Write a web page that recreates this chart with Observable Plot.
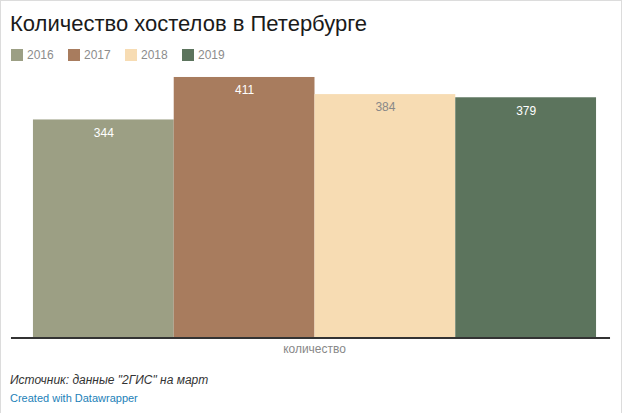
<!DOCTYPE html>
<html>
<head>
<meta charset="utf-8">
<script src="https://cdn.jsdelivr.net/npm/d3@7"></script>
<script src="https://cdn.jsdelivr.net/npm/@observablehq/plot@0.6"></script>
<style>
  html, body { margin: 0; padding: 0; background: #fff; }
  #wrap { position: relative; width: 620px; height: 413px; border-left: 1px solid #dcdcdc; border-top: 1px solid #dcdcdc; border-right: 1px solid #dcdcdc; box-sizing: content-box; font-family: "Liberation Sans", Arial, sans-serif; overflow: hidden; }
  #title { position: absolute; left: 9px; top: 10px; font-size: 22px; color: #1a1a1a; white-space: nowrap; }
  #legend { position: absolute; left: 10px; top: 47px; font-size: 12px; color: #8c8c8c; display: flex; gap: 0; }
  .li { display: flex; align-items: center; width: 57px; }
  .sw { width: 12px; height: 12px; margin-right: 4px; }
  #chart { position: absolute; left: -1px; top: 64px; }
  #caption { position: absolute; left: 9px; top: 372px; font-size: 12px; font-style: italic; color: #333; }
  #credit { position: absolute; left: 9px; top: 391px; font-size: 11px; color: #1d81b8; }
</style>
</head>
<body>
<div id="wrap">
  <div id="title">Количество хостелов в Петербурге</div>
  <div id="legend"></div>
  <div id="chart"></div>
  <div id="caption">Источник: данные "2ГИС" на март</div>
  <div id="credit">Created with Datawrapper</div>
</div>
<script>
const years = ["2016", "2017", "2018", "2019"];
const values = [344, 411, 384, 379];
const colors = ["#9c9f84", "#a87c5e", "#f7dcb3", "#5c745d"];
const labelColors = ["#ffffff", "#ffffff", "#888888", "#ffffff"];
const axisLabel = "количество";

const data = years.map((y, i) => ({year: y, value: values[i], color: colors[i], lc: labelColors[i]}));

const legend = document.getElementById("legend");
years.forEach((y, i) => {
  const li = document.createElement("div");
  li.className = "li";
  li.innerHTML = `<div class="sw" style="background:${colors[i]}"></div><span>${y}</span>`;
  legend.appendChild(li);
});

const chart = Plot.plot({
  width: 622,
  height: 300,
  marginTop: 12,
  marginBottom: 27,
  marginLeft: 32,
  marginRight: 25,
  style: {fontFamily: "'Liberation Sans', Arial, sans-serif", fontSize: "12px", background: "transparent"},
  x: {domain: years, padding: 0, axis: null},
  y: {domain: [0, 411], axis: null},
  marks: [
    Plot.barY(data, {x: "year", y: "value", fill: "color"}),
    Plot.ruleY([0], {stroke: "#333", strokeWidth: 2, insetLeft: -21, insetRight: -14}),
    Plot.text(data, {x: "year", y: "value", text: d => String(d.value), fill: "lc", dy: 13, fontSize: 12}),
    Plot.text([axisLabel], {frameAnchor: "bottom", dy: 15, fill: "#888", fontSize: 12})
  ]
});
document.getElementById("chart").appendChild(chart);
</script>
</body>
</html>
